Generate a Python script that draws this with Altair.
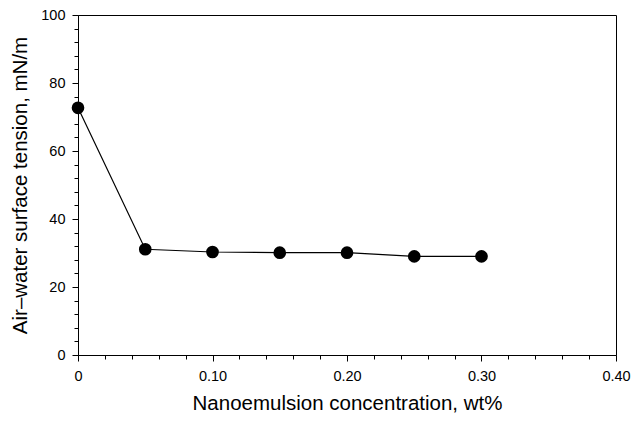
import altair as alt
import pandas as pd

conc = [0.0, 0.05, 0.10, 0.15, 0.20, 0.25, 0.30]
tension = [72.7, 31.1, 30.3, 30.1, 30.1, 29.0, 29.0]

x_ticks = [round(i * 0.02, 2) for i in range(21)]
y_ticks = [i * 4 for i in range(26)]

df = pd.DataFrame({"conc": conc, "tension": tension})

FONT = "Liberation Sans"

x = alt.X(
    "conc:Q",
    scale=alt.Scale(domain=[0, 0.4], nice=False, zero=False),
    axis=alt.Axis(
        title="Nanoemulsion concentration, wt%",
        values=x_ticks,
        labelExpr="abs(datum.value*10 - round(datum.value*10)) > 0.001 ? '' : (datum.value == 0 ? '0' : format(datum.value, '.2f'))",
        labelOverlap=False,
        labelFlush=False,
        grid=False,
        tickSize={"condition": {"test": "abs(datum.value*10 - round(datum.value*10)) < 0.001", "value": 6}, "value": 4},
        labelPadding=8,
        titlePadding=11,
    ),
)
y = alt.Y(
    "tension:Q",
    scale=alt.Scale(domain=[0, 100], nice=False),
    axis=alt.Axis(
        title="Air\u2013water surface tension, mN/m",
        values=y_ticks,
        labelExpr="datum.value % 20 == 0 ? format(datum.value, 'd') : ''",
        labelOverlap=False,
        labelFlush=False,
        grid=False,
        tickSize={"condition": {"test": "datum.value % 20 == 0", "value": 6}, "value": 4},
        labelPadding=7,
        titlePadding=10,
    ),
)

line = alt.Chart(df).mark_line(color="black", strokeWidth=1.2).encode(x=x, y=y)
pts = alt.Chart(df).mark_circle(color="black", opacity=1, size=160).encode(x=x, y=y)

chart = (
    alt.layer(line, pts)
    .properties(
        width=538,
        height=340,
        autosize=alt.AutoSizeParams(type="none"),
        padding={"left": 78, "top": 15, "right": 16, "bottom": 74},
    )
    .configure_view(stroke="black", strokeWidth=1)
    .configure_axis(
        domainColor="black",
        domainWidth=1,
        tickColor="black",
        tickWidth=1,
        labelFont=FONT,
        titleFont=FONT,
        labelFontSize=14.5,
        titleFontSize=20.5,
        labelColor="black",
        titleColor="black",
        titleFontWeight="normal",
    )
)

chart.save("out.html", embed_options={"renderer": "svg", "actions": False})
